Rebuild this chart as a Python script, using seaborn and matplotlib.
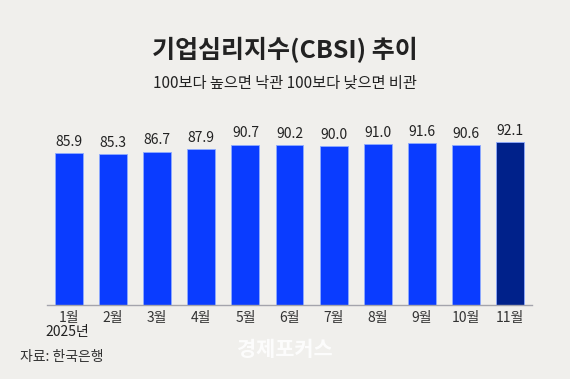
import matplotlib
matplotlib.use("Agg")
import matplotlib.pyplot as plt
import seaborn as sns
import pandas as pd

months = ["1월", "2월", "3월", "4월", "5월", "6월", "7월", "8월", "9월", "10월", "11월"]
values = [85.9, 85.3, 86.7, 87.9, 90.7, 90.2, 90.0, 91.0, 91.6, 90.6, 92.1]
year_label = "2025년"
title = "기업심리지수(CBSI) 추이"
subtitle = "100보다 높으면 낙관 100보다 낮으면 비관"
source = "자료: 한국은행"
watermark = "경제포커스"

sns.set_theme(style="white")
plt.rcParams['font.family'] = ['Noto Sans CJK KR', 'DejaVu Sans']

bg = "#f0efec"
colors = ["#0a3cff"] * (len(months) - 1) + ["#00218a"]

fig = plt.figure(figsize=(5.7, 3.79), dpi=100, facecolor=bg)
ax = fig.add_axes([47 / 570, 1 - 305 / 379, (532 - 47) / 570, (305 - 130) / 379])
ax.set_facecolor(bg)

df = pd.DataFrame({"month": months, "value": values})
sns.barplot(data=df, x="month", y="value", hue="month", palette=colors,
            legend=False, width=0.635, ax=ax, saturation=1,
            edgecolor="#8fabff", linewidth=0.6)

for cont in ax.containers:
    ax.bar_label(cont, fmt="%.1f", padding=3, fontsize=10, color="#222222")

ax.set_xlim(-0.5, len(months) - 0.5)
ax.set_ylim(0, 98.9)
ax.set_xlabel("")
ax.set_ylabel("")
ax.set_yticks([])
for s in ["top", "right", "left"]:
    ax.spines[s].set_visible(False)
ax.spines["bottom"].set_color("#a4a4ac")
ax.spines["bottom"].set_linewidth(1.0)
ax.tick_params(axis="x", length=0, pad=4, labelsize=10, labelcolor="#333333")

fig.text(0.5, 1 - 50 / 379, title, ha="center", va="center", fontsize=18,
         fontweight="bold", color="#222222")
fig.text(0.5, 1 - 83 / 379, subtitle, ha="center", va="center", fontsize=11,
         color="#222222")
fig.text(67 / 570, 1 - 332 / 379, year_label, ha="center", va="center", fontsize=10,
         color="#222222")
fig.text(20 / 570, 1 - 357 / 379, source, ha="left", va="center", fontsize=10,
         color="#333333")
fig.text(285 / 570, 1 - 350 / 379, watermark, ha="center", va="center", fontsize=15,
         fontweight="bold", color="#ffffff", alpha=0.85)

fig.savefig("out.png", dpi=100, facecolor=bg)
